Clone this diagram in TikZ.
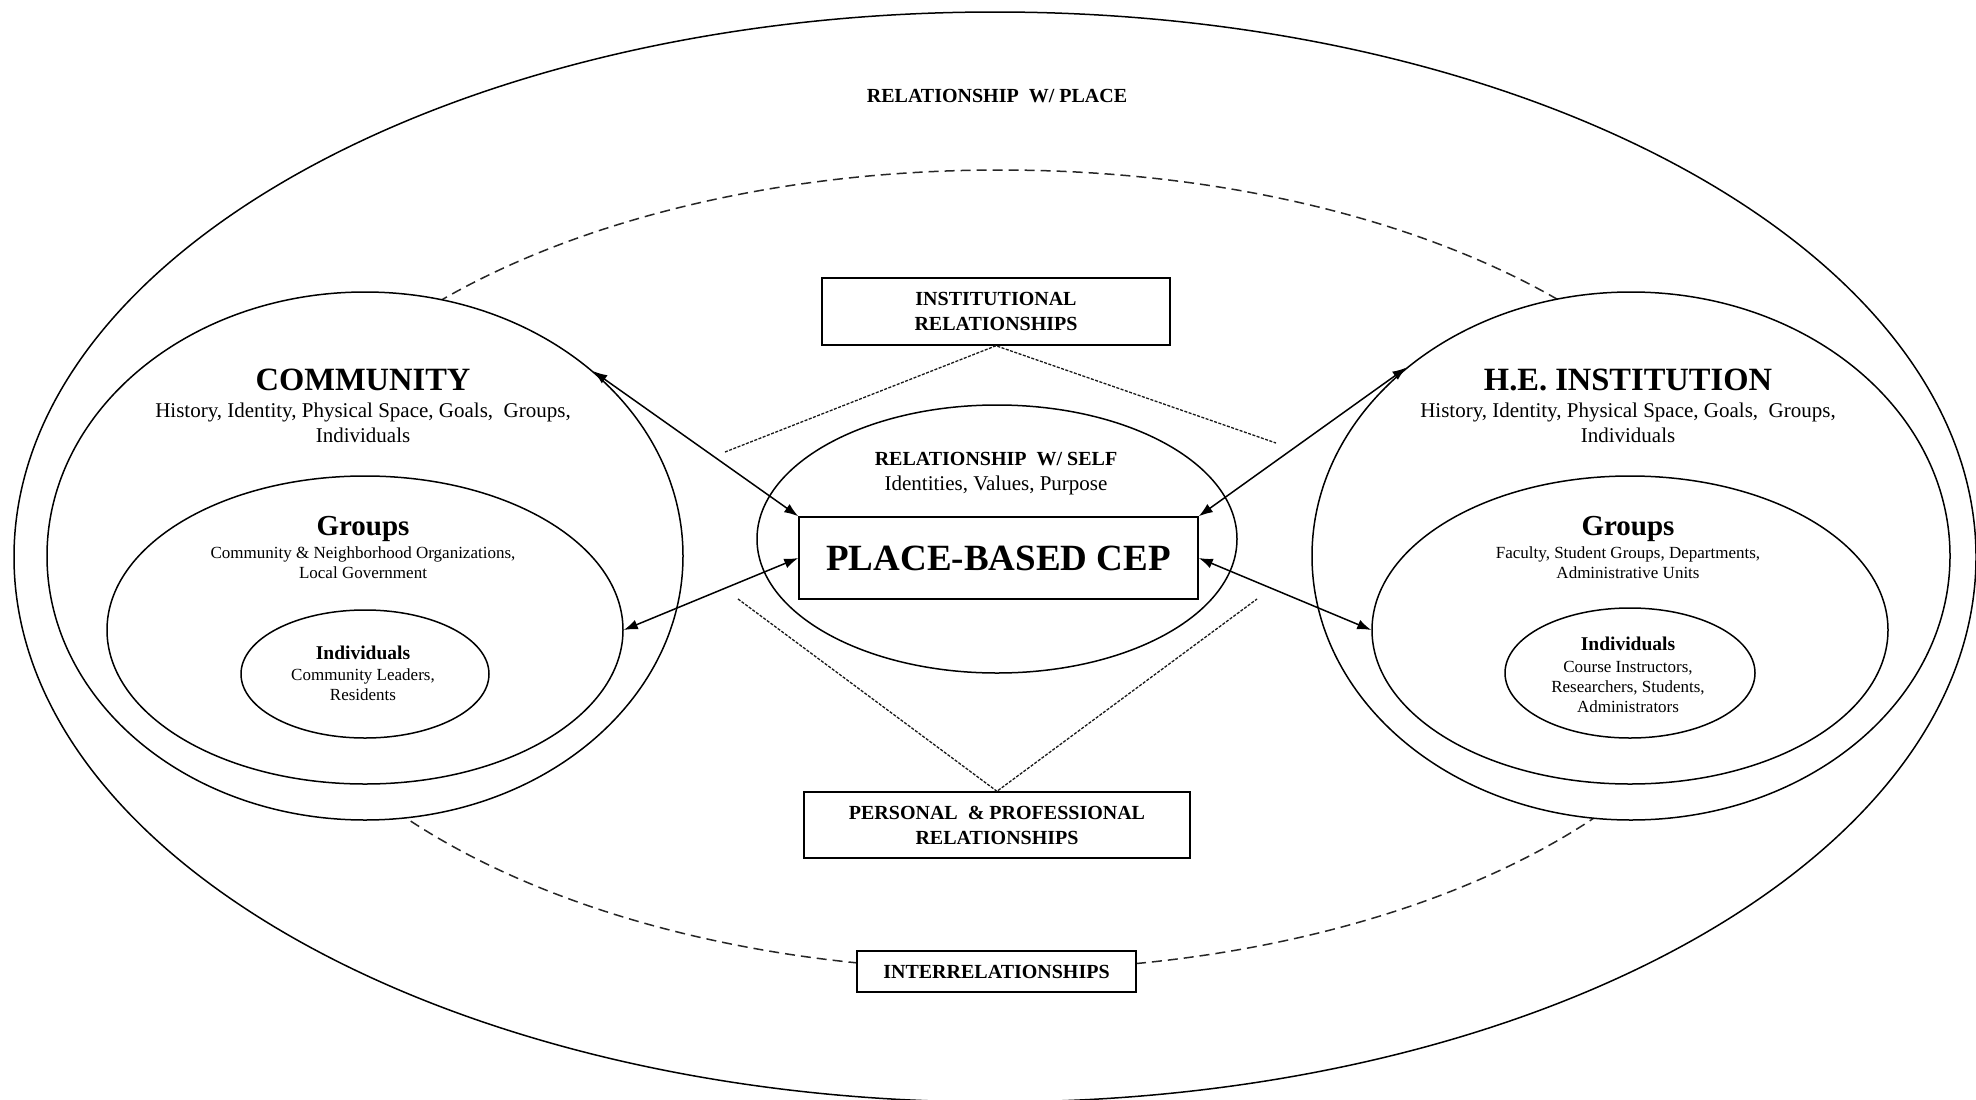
\documentclass[tikz,border=0pt]{standalone}
\usepackage{fontspec}
\setmainfont{Liberation Serif}
\usetikzlibrary{shapes.geometric,arrows.meta}
\newcommand\fsz[1]{\fontsize{#1}{#1}\selectfont}
\begin{document}
\begin{tikzpicture}[x=1pt,y=-1pt,
  ell/.style={ellipse,draw=black,line width=1.5pt,inner sep=0pt,fill=white},
  dashell/.style={ellipse,draw=black!85,line width=1.5pt,inner sep=0pt,dash pattern=on 10pt off 6pt},
  rbox/.style={rectangle,draw=black,line width=1.5pt,fill=white,inner sep=0pt,align=center,font=\bfseries\fontsize{20}{25}\selectfont},
  txt/.style={inner sep=0pt,anchor=base},
  dotline/.style={line width=1.3pt,black!90,dash pattern=on 3pt off 1.5pt},
  biarrow/.style={line width=1.5pt,{Latex[length=14pt,width=10pt]}-{Latex[length=14pt,width=10pt]}}
]
\fill[white] (0,0) rectangle (1976,1100);
\useasboundingbox (0,0) rectangle (1976,1100);

% outer ellipse and dashed ring
\node[ell,fill=none,minimum width=1962pt,minimum height=1090pt] (place) at (995,557) {};
\node[dashell,minimum width=1514pt,minimum height=800pt] (inter) at (1000,570) {};

% boxes with dotted leaders
\node[rbox,minimum width=348pt,minimum height=67pt] (inst) at (996,311.5) {INSTITUTIONAL\\RELATIONSHIPS};
\node[rbox,minimum width=386pt,minimum height=66pt] (pers) at (997,825) {PERSONAL\ \ \& PROFESSIONAL\\RELATIONSHIPS};
\coordinate (iL) at (725,452);
\coordinate (iR) at (1276,443);
\coordinate (pL) at (738,599);
\coordinate (pR) at (1257,599);
\draw[dotline] (iL) -- (inst.south) -- (iR);
\draw[dotline] (pL) -- (pers.north) -- (pR);

% community side
\node[ell,minimum width=636pt,minimum height=528pt] (comm) at (365,556) {};
\node[ell,minimum width=516pt,minimum height=308pt] (grpL) at (365,630) {};
\node[ell,minimum width=248pt,minimum height=128pt] (indL) at (365,674) {};

% institution side
\node[ell,minimum width=638pt,minimum height=528pt] (heinst) at (1631,556) {};
\node[ell,minimum width=516pt,minimum height=308pt] (grpR) at (1630,630) {};
\node[ell,minimum width=250pt,minimum height=130pt] (indR) at (1630,673) {};

% self and centre
\node[ell,minimum width=480pt,minimum height=268pt] (self) at (997,539) {};
\node[rbox,minimum width=399pt,minimum height=82pt,font=\bfseries\fsz{37}] (cep) at (998.5,558) {PLACE-BASED CEP};
\node[rbox,minimum width=279pt,minimum height=41pt] (interbox) at (996.5,971.5) {INTERRELATIONSHIPS};

% texts
\node[txt,font=\bfseries\fsz{20}] (tplace) at (997,102) {RELATIONSHIP\ \ W/ PLACE};

\node[txt,font=\bfseries\fsz{32.5}] (tcomm) at (363,390) {COMMUNITY};
\node[txt,font=\fsz{21}] (tcomm1) at (363,417) {History, Identity, Physical Space, Goals,\ \ Groups,};
\node[txt,font=\fsz{21}] (tcomm2) at (363,442) {Individuals};
\node[txt,font=\bfseries\fsz{29}] (tgrpL) at (363,535) {Groups};
\node[txt,font=\fsz{17}] (tgrpL1) at (363,558) {Community \& Neighborhood Organizations,};
\node[txt,font=\fsz{17}] (tgrpL2) at (363,578) {Local Government};
\node[txt,font=\bfseries\fsz{19.5}] (tindL) at (363,659) {Individuals};
\node[txt,font=\fsz{17}] (tindL1) at (363,680) {Community Leaders,};
\node[txt,font=\fsz{17}] (tindL2) at (363,700) {Residents};

\node[txt,font=\bfseries\fsz{32.5}] (tinst) at (1628,390) {H.E. INSTITUTION};
\node[txt,font=\fsz{21}] (tinst1) at (1628,417) {History, Identity, Physical Space, Goals,\ \ Groups,};
\node[txt,font=\fsz{21}] (tinst2) at (1628,442) {Individuals};
\node[txt,font=\bfseries\fsz{29}] (tgrpR) at (1628,535) {Groups};
\node[txt,font=\fsz{17}] (tgrpR1) at (1628,558) {Faculty, Student Groups, Departments,};
\node[txt,font=\fsz{17}] (tgrpR2) at (1628,578) {Administrative Units};
\node[txt,font=\bfseries\fsz{19.5}] (tindR) at (1628,650) {Individuals};
\node[txt,font=\fsz{17}] (tindR1) at (1628,672) {Course Instructors,};
\node[txt,font=\fsz{17}] (tindR2) at (1628,692) {Researchers, Students,};
\node[txt,font=\fsz{17}] (tindR3) at (1628,712) {Administrators};

\node[txt,font=\bfseries\fsz{20}] (tself) at (996,465) {RELATIONSHIP\ \ W/ SELF};
\node[txt,font=\fsz{21}] (tself1) at (996,490) {Identities, Values,\ Purpose};

% arrows
\draw[biarrow] (comm.39.6) -- (cep.north west);
\draw[biarrow] (grpL.east) -- (cep.west);
\draw[biarrow] (heinst.140.9) -- (cep.north east);
\draw[biarrow] (grpR.west) -- (cep.east);
\end{tikzpicture}
\end{document}
